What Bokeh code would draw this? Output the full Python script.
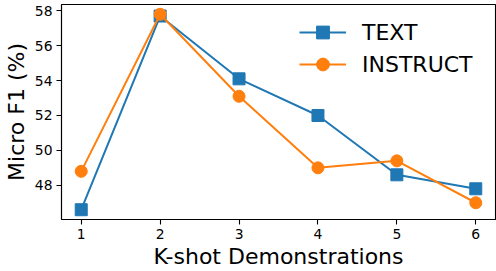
from bokeh.plotting import figure
from bokeh.models import Legend, LegendItem, FixedTicker, Range1d
from bokeh.embed import file_html
from bokeh.resources import INLINE

# Data
k_shots = [1, 2, 3, 4, 5, 6]
text_f1 = [46.6, 57.7, 54.1, 52.0, 48.6, 47.8]
instruct_f1 = [48.8, 57.8, 53.1, 49.0, 49.4, 47.0]
y_ticks = [48, 50, 52, 54, 56, 58]
series_labels = ["TEXT", "INSTRUCT"]

BLUE = "#1f77b4"
ORANGE = "#ff7f0e"
FONT = "DejaVu Sans"
NAN = float("nan")

p = figure(width=496, height=271, output_backend="svg", toolbar_location=None,
           x_range=Range1d(0.75, 6.25), y_range=Range1d(46.04, 58.36),
           min_border_left=61, min_border_right=1, min_border_top=4, min_border_bottom=50)
p.styles = {"position": "absolute", "top": "0px", "left": "0px"}
p.xgrid.visible = False
p.ygrid.visible = False
p.outline_line_color = "black"
p.outline_line_width = 1.1
p.background_fill_color = "white"
p.border_fill_color = "white"

for ax in (p.xaxis[0], p.yaxis[0]):
    ax.major_label_text_font = FONT
    ax.major_label_text_font_size = "13.9px"
    ax.major_label_text_color = "black"
    ax.axis_label_text_font = FONT
    ax.axis_label_text_font_size = "22px"
    ax.axis_label_text_font_style = "normal"
    ax.axis_label_text_color = "black"
    ax.major_tick_out = 5
    ax.major_tick_in = 0
    ax.minor_tick_out = 0
    ax.minor_tick_in = 0
    ax.axis_line_width = 1.1
    ax.major_tick_line_width = 1.1
    ax.major_label_standoff = 4

p.xaxis.ticker = FixedTicker(ticks=k_shots)
p.yaxis.ticker = FixedTicker(ticks=y_ticks)
p.xaxis.axis_label = "K-shot Demonstrations"
p.yaxis.axis_label = "Micro F1 (%)"
p.xaxis.axis_label_standoff = 2
p.yaxis.axis_label_standoff = 3

p.line(k_shots, text_f1, line_color=BLUE, line_width=2)
p.scatter(k_shots, text_f1, marker="square", size=12, fill_color=BLUE, line_color=BLUE)
p.line(k_shots, instruct_f1, line_color=ORANGE, line_width=2)
p.scatter(k_shots, instruct_f1, marker="circle", size=12, fill_color=ORANGE, line_color=ORANGE)

# legend proxies (smaller markers as in reference)
lt = p.line([NAN], [NAN], line_color=BLUE, line_width=2)
st = p.scatter([NAN], [NAN], marker="square", size=9, fill_color=BLUE, line_color=BLUE)
li = p.line([NAN], [NAN], line_color=ORANGE, line_width=2)
si = p.scatter([NAN], [NAN], marker="circle", size=9, fill_color=ORANGE, line_color=ORANGE)

legend = Legend(items=[LegendItem(label=series_labels[0], renderers=[lt, st]),
                       LegendItem(label=series_labels[1], renderers=[li, si])],
                location=(238, 139))
legend.border_line_color = None
legend.background_fill_alpha = 0
legend.padding = 0
legend.margin = 0
legend.spacing = 0
legend.glyph_width = 47
legend.glyph_height = 32
legend.label_height = 32
legend.label_standoff = 16
legend.label_text_font = FONT
legend.label_text_font_size = "22px"
legend.label_text_color = "black"
p.add_layout(legend)

open("out.html", "w").write(file_html(p, INLINE))
